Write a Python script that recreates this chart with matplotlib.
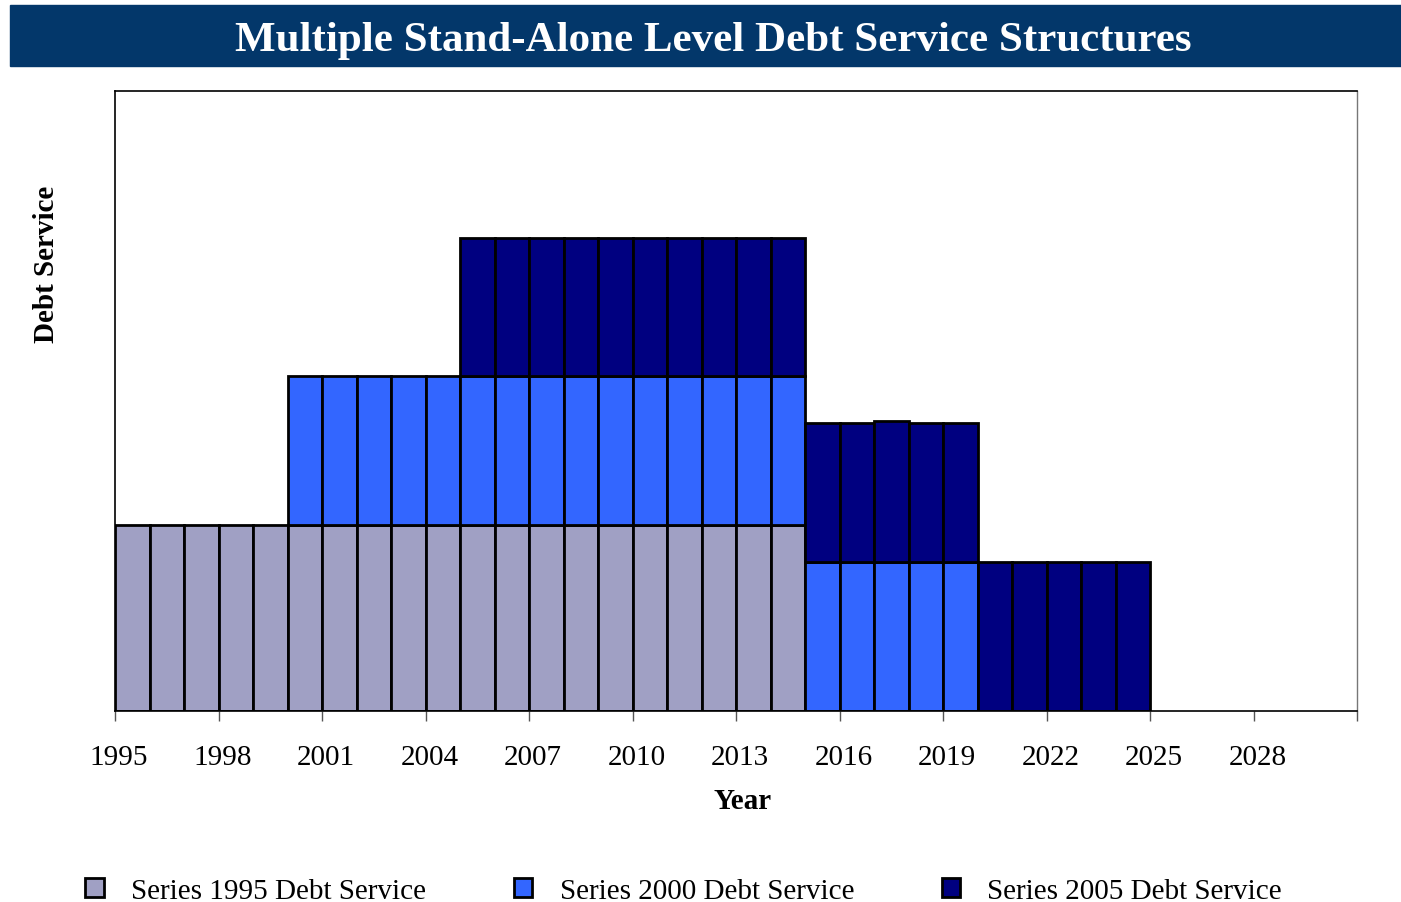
import numpy as np
import matplotlib.pyplot as plt
from matplotlib.patches import Rectangle
from matplotlib.transforms import ScaledTranslation

plt.rcParams['font.family'] = ['Liberation Serif', 'DejaVu Serif']

years = np.arange(1995, 2031)

# debt service by bond series (arbitrary units), one value per year
series_1995 = [3.0] * 20 + [0.0] * 16
series_2000 = [0.0] * 5 + [2.4] * 20 + [0.0] * 11
series_2005 = [0.0] * 10 + [2.23] * 10 + [2.24, 2.24, 2.27, 2.24, 2.24] + [2.4] * 5 + [0.0] * 6

labels = ['Series 1995 Debt Service', 'Series 2000 Debt Service', 'Series 2005 Debt Service']
colors = ['#a0a0c4', '#3366ff', '#000080']

fig = plt.figure(figsize=(14.01, 9.03), dpi=100)

# title banner
fig.patches.append(Rectangle((10 / 1401, 1 - 67 / 903), 1 - 10 / 1401, 61 / 903,
                             transform=fig.transFigure, color='#03376a', zorder=0))
fig.text(0.509, 1 - 41 / 903, 'Multiple Stand-Alone Level Debt Service Structures',
         ha='center', va='center', color='white', fontsize=31, fontweight='bold')

ax = fig.add_axes([115 / 1401, 1 - 712 / 903, 1242 / 1401, 620 / 903])

bottom = np.zeros(len(years))
for vals, lab, col in zip([series_1995, series_2000, series_2005], labels, colors):
    vals = np.array(vals)
    mask = vals > 0
    ax.bar(years[mask], vals[mask], width=1.0, bottom=bottom[mask], align='edge',
           color=col, edgecolor='black', linewidth=2, label=lab)
    bottom += vals

ax.set_xlim(1995, 2031)
ax.set_ylim(0, 10)
ax.set_yticks([])
ticks = np.arange(1995, 2032, 3)
ax.set_xticks(ticks)
ax.set_xticklabels([str(t) if t < 2031 else '' for t in ticks], fontsize=21)
ax.tick_params(axis='x', length=7, width=1, color='#555555', pad=17)
shift = ScaledTranslation(4 / 100, 0, fig.dpi_scale_trans)
for lbl in ax.get_xticklabels():
    lbl.set_transform(lbl.get_transform() + shift)

for s in ['top', 'left', 'bottom']:
    ax.spines[s].set_color('black')
    ax.spines[s].set_linewidth(1.2)
ax.spines['right'].set_color('#777777')
ax.spines['right'].set_linewidth(1.0)

ax.set_xlabel('Year', fontsize=21, fontweight='bold')
ax.xaxis.set_label_coords(743 / 1401, 1 - 802 / 903, transform=fig.transFigure)
ax.xaxis.label.set_va('center')
fig.text(47 / 1401, 1 - 264 / 903, 'Debt Service', rotation=90, ha='center', va='center',
         fontsize=21, fontweight='bold')

handles, labs = ax.get_legend_handles_labels()
fig.legend(handles, labs, loc='center', bbox_to_anchor=(0.488, 1 - 892 / 903), ncol=3,
           frameon=False, fontsize=21, handlelength=0.62, handleheight=0.62,
           handletextpad=0.95, columnspacing=3.0)

fig.savefig('out.png', dpi=100)
